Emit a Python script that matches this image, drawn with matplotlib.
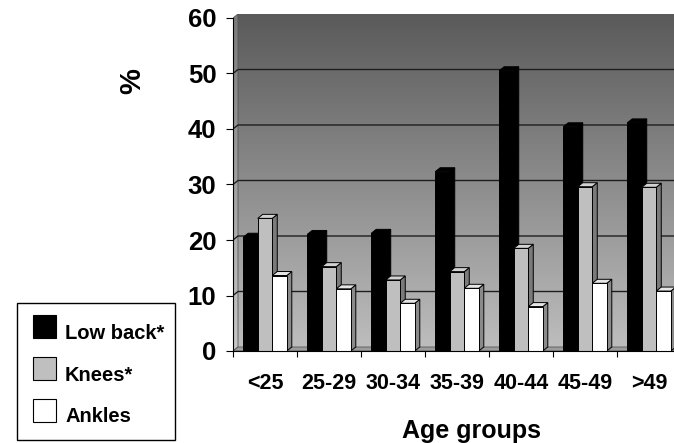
import matplotlib.pyplot as plt
import numpy as np
from matplotlib.patches import Polygon, Rectangle
from matplotlib.colors import LinearSegmentedColormap

# data (% per age group)
age_groups = ['<25', '25-29', '30-34', '35-39', '40-44', '45-49', '>49']
low_back = [20.5, 21.0, 21.2, 32.3, 50.5, 40.4, 41.1]
knees = [23.9, 15.2, 12.8, 14.3, 18.5, 29.6, 29.5]
ankles = [13.6, 11.2, 8.6, 11.3, 8.0, 12.2, 10.8]
series_names = ['Low back*', 'Knees*', 'Ankles']
y_ticks = [0, 10, 20, 30, 40, 50, 60]

plt.rcParams['font.family'] = ['Liberation Sans', 'DejaVu Sans']

W, H = 674, 443
fig = plt.figure(figsize=(W / 100, H / 100), dpi=100)

# geometry of the pseudo 3d plot, in pixels
x0_px, cat_px = 233, 64
y0_px, ytop_px = 351, 14
dx_px, dy_px = 5, 4
n = len(age_groups)
px_per_unit = (y0_px - dy_px - ytop_px) / 60
dx = dx_px / cat_px
dy = dy_px / px_per_unit
ymax = 60 + dy

ax = fig.add_axes([x0_px / W, (H - y0_px) / H, (n + dx) * cat_px / W, (y0_px - ytop_px) / H])
ax.set_facecolor('none')

# back wall with gradient
grad = np.linspace(0, 1, 256).reshape(-1, 1)
wall_cmap = LinearSegmentedColormap.from_list('wall', ['#bdbdbd', '#5a5a5a'])
side_cmap = LinearSegmentedColormap.from_list('side', ['#c8c8c8', '#7a7a7a'])
ax.imshow(grad, cmap=wall_cmap, extent=[dx, n + dx, dy, ymax], origin='lower',
          aspect='auto', zorder=0)

# left wall strip
side = ax.imshow(grad, cmap=side_cmap, extent=[0, dx, 0, ymax], origin='lower',
                 aspect='auto', zorder=0)
side_poly = Polygon([(0, 0), (dx, dy), (dx, ymax), (0, 60)], closed=True,
                    transform=ax.transData)
side.set_clip_path(side_poly)
ax.add_patch(Polygon([(0, 0), (dx, dy), (dx, ymax), (0, 60)], closed=True,
                     fc='none', ec='#555555', lw=0.6, zorder=1))

# floor
ax.add_patch(Polygon([(0, 0), (n, 0), (n + dx, dy), (dx, dy)], closed=True,
                     fc='#9c9c9c', ec='#555555', lw=0.6, zorder=1))

# gridlines on the walls
for v in y_ticks[1:-1]:
    ax.plot([0, dx, n + dx], [v, v + dy, v + dy], color='#1e1e1e', lw=1.0, zorder=1)

# bars: front face, side face, top face
series = [low_back, knees, ankles]
faces = [('#000000', '#000000', '#000000'),
         ('#bfbfbf', '#7a7a7a', '#d2d2d2'),
         ('#ffffff', '#8a8a8a', '#e6e6e6')]
bw = 0.227
start = (1 - 3 * bw) / 2
for i in range(n):
    for j, vals in enumerate(series):
        v = vals[i]
        x = i + start + j * bw
        front, sidec, topc = faces[j]
        ax.add_patch(Polygon([(x + bw, 0), (x + bw + dx, dy), (x + bw + dx, v + dy), (x + bw, v)],
                             closed=True, fc=sidec, ec='#000000', lw=0.7, zorder=3))
        ax.add_patch(Polygon([(x, v), (x + dx, v + dy), (x + bw + dx, v + dy), (x + bw, v)],
                             closed=True, fc=topc, ec='#000000', lw=0.7, zorder=3))
        ax.add_patch(Rectangle((x, 0), bw, v, fc=front, ec='#000000', lw=0.7, zorder=3))

ax.set_xlim(0, n + dx)
ax.set_ylim(0, ymax)

for s in ['top', 'right']:
    ax.spines[s].set_visible(False)
ax.spines['left'].set_bounds(0, 60)
ax.spines['bottom'].set_bounds(0, n)
ax.spines['left'].set_zorder(4)
ax.spines['bottom'].set_zorder(4)

ax.set_yticks(y_ticks)
ax.set_yticklabels([str(t) for t in y_ticks], fontsize=18.5, fontweight='bold')
ax.tick_params(axis='y', direction='out', length=5, width=0.8, pad=7)

ax.set_xticks(np.arange(n) + 0.5)
ax.set_xticklabels(age_groups, fontsize=15.5, fontweight='bold')
ax.set_xticks(np.arange(n + 1), minor=True)
ax.tick_params(axis='x', which='major', length=0, pad=16)
ax.tick_params(axis='x', which='minor', direction='out', length=4.5, width=0.8)

# overlay in pixel coordinates for labels and legend
ov = fig.add_axes([0, 0, 1, 1])
ov.set_xlim(0, W)
ov.set_ylim(H, 0)
ov.axis('off')

ov.text(132, 81, '%', rotation=90, fontsize=21, fontweight='bold', ha='center', va='center')
ov.text(402, 438, 'Age groups', fontsize=18, fontweight='bold', ha='left', va='baseline')

ov.add_patch(Rectangle((17, 303), 158, 137, fc='white', ec='#000000', lw=1.0))
legend_colors = ['#000000', '#bfbfbf', '#ffffff']
square_y = [315, 357, 399]
text_y = [339, 381, 422]
for name, c, sy, ty in zip(series_names, legend_colors, square_y, text_y):
    ov.add_patch(Rectangle((33, sy), 23, 23, fc=c, ec='#000000', lw=0.8))
    ov.text(65, ty, name, fontsize=14.5, fontweight='bold', ha='left', va='baseline')

fig.savefig('out.png', dpi=100)
